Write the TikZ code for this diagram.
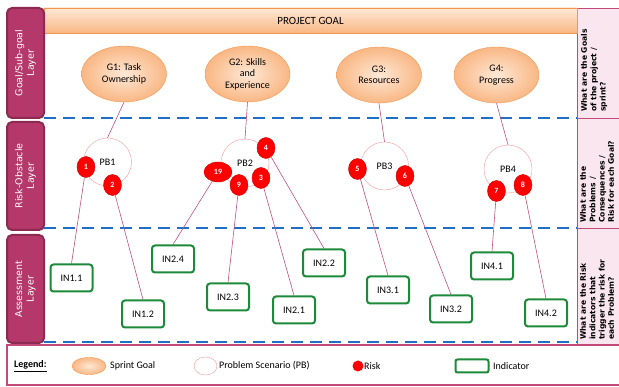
\documentclass[tikz,border=0pt]{standalone}
\usepackage{fontspec}
\setmainfont{Carlito}
\newfontfamily\layerfont{DejaVu Sans}
\usetikzlibrary{shapes.geometric}

\definecolor{layerred}{HTML}{B4386A}
\definecolor{layerdark}{HTML}{8C2A52}
\definecolor{goallight}{HTML}{FEE8D6}
\definecolor{goaldark}{HTML}{F9B784}
\definecolor{goaledge}{HTML}{F29650}
\definecolor{pbpink}{HTML}{F29A9A}
\definecolor{ingreen}{HTML}{1D8A3A}
\definecolor{dashblue}{HTML}{1F70C4}
\definecolor{linkred}{HTML}{C0507C}
\definecolor{qpink}{HTML}{F9E6EE}
\definecolor{qedge}{HTML}{C24A7A}

\begin{document}
\begin{tikzpicture}[x=1pt, y=-1pt, font=\fontsize{10}{11.5}\selectfont,
    layer/.style={draw=layerdark, fill=layerred, line width=2pt, rounded corners=5pt, rotate=90,
        text=white, align=center, inner sep=0pt, font=\layerfont\fontsize{9.5}{11.5}\selectfont},
    goal/.style={ellipse, draw=goaledge, inner color=goallight, outer color=goaldark,
        minimum width=85, minimum height=56, inner sep=0pt, align=center},
    problem/.style={circle, draw=pbpink, fill=white, minimum size=48, inner sep=0pt},
    risk/.style={ellipse, fill=red, draw=red!80!black, text=white, minimum width=18,
        minimum height=21, inner sep=0pt, font=\fontsize{8}{9}\selectfont\bfseries},
    indicator/.style={draw=ingreen, line width=2pt, rounded corners=3pt, fill=white,
        minimum width=42, minimum height=27, inner sep=0pt},
    question/.style={rotate=90, anchor=north west, align=left, inner sep=0pt,
        font=\layerfont\bfseries\fontsize{7.6}{9.3}\selectfont},
    layerline/.style={draw=dashblue, line width=2.5pt, dash pattern=on 12pt off 7pt},
    link/.style={draw=linkred, line width=0.6pt}
]
        \useasboundingbox (0,0) rectangle (619,387);

        % question column and project goal
        \draw[draw=qedge, fill=qpink] (577,8) rectangle (623,345);
        \draw[qedge] (577,118) -- (619,118);
        \draw[qedge] (577,228) -- (619,228);
        \node[draw=goaledge, top color=goallight, bottom color=goaldark, minimum width=533,
            minimum height=25, inner sep=0pt, font=\fontsize{11}{12}\selectfont] (project) at (310.5,20.5) {PROJECT GOAL};

        \node[question] (q1) at (581,112) {What are the Goals\\of the project /\\sprint?};
        \node[question] (q2) at (580,223) {What are the\\Problems /\\Consequences /\\Risk for each Goal?};
        \node[question] (q3) at (580,340) {What are the Risk\\indicators that\\trigger the risk for\\each Problem?};

        \draw[layerline] (44,118) -- (577,118);
        \draw[layerline] (44,228) -- (577,228);
        \draw[layerline] (44,342) -- (577,342);

        % layers
        \node[layer, minimum width=110, minimum height=37] (goallayer) at (25.5,63) {Goal/Sub-goal\\Layer};
        \node[layer, minimum width=108, minimum height=37] (risklayer) at (25.5,176) {Risk-Obstacle\\Layer};
        \node[layer, minimum width=108, minimum height=37] (assesslayer) at (25.5,289) {Assessment\\Layer};

        % goals
        \node[goal] (g1) at (124,74) {G1: Task\\Ownership};
        \node[goal] (g2) at (247.5,74) {G2: Skills\\and\\Experience};
        \node[goal] (g3) at (379,75) {G3:\\Resources};
        \node[goal] (g4) at (496.5,75) {G4:\\Progress};

        % problems
        \node[problem] (pb1) at (107.5,162) {PB1};
        \node[problem] (pb2) at (245,163) {PB2};
        \node[problem] (pb3) at (384.5,166) {PB3};
        \node[problem] (pb4) at (508,169) {PB4};

        % risks
        \node[risk] (r1) at (86,167) {1};
        \node[risk] (r2) at (112.5,185) {2};
        \node[risk, minimum width=28, minimum height=20] (r19) at (218,172) {19};
        \node[risk] (r9) at (239,185) {9};
        \node[risk] (r3) at (261,178) {3};
        \node[risk] (r4) at (266,148) {4};
        \node[risk] (r5) at (357.5,169) {5};
        \node[risk] (r6) at (405,176) {6};
        \node[risk] (r7) at (496.5,191) {7};
        \node[risk] (r8) at (523,185) {8};

        % indicators
        \node[indicator] (in11) at (71.5,278) {IN1.1};
        \node[indicator] (in12) at (143,314) {IN1.2};
        \node[indicator] (in24) at (173,259) {IN2.4};
        \node[indicator] (in23) at (228,297) {IN2.3};
        \node[indicator] (in21) at (294,310) {IN2.1};
        \node[indicator] (in22) at (324,263) {IN2.2};
        \node[indicator] (in31) at (388,290) {IN3.1};
        \node[indicator] (in32) at (451,309) {IN3.2};
        \node[indicator] (in41) at (492,266) {IN4.1};
        \node[indicator] (in42) at (546,313) {IN4.2};

        \draw[link] (g1.south) -- (pb1.north);
        \draw[link] (g2.south) -- (pb2.north);
        \draw[link] (g3.south) -- (pb3.north);
        \draw[link] (g4.south) -- (pb4.north);

        \draw[link] (r1) -- (in11.north);
        \draw[link] (r2) -- (in12.north);
        \draw[link] (r19) -- (in24.north);
        \draw[link] (r9) -- (in23.north);
        \draw[link] (r3) -- (in21.north);
        \draw[link] (r4) -- (in22.north);
        \draw[link] (r5) -- (in31.north);
        \draw[link] (r6) -- (in32.north);
        \draw[link] (r7) -- (in41.north);
        \draw[link] (r8) -- (in42.north);

        % legend
        \draw[draw=qedge, line width=1.5pt] (7,345) rectangle (623,385);
        \node[anchor=west, inner sep=0pt] (legend) at (14,366) {\underline{\textbf{Legend:}}};
        \node[goal, minimum width=34, minimum height=17] (lgoal) at (89,366) {};
        \node[anchor=west, inner sep=0pt] (lgoaltext) at (110,366) {Sprint Goal};
        \node[ellipse, draw=pbpink, minimum width=23, minimum height=18] (lpb) at (205.5,366) {};
        \node[anchor=west, inner sep=0pt] (lpbtext) at (219,366) {Problem Scenario (PB)};
        \node[circle, fill=red, minimum size=11, inner sep=0pt] (lrisk) at (358,366) {};
        \node[anchor=west, inner sep=0pt] (lrisktext) at (364,366) {Risk};
        \node[indicator, minimum width=33, minimum height=13, rounded corners=2pt] (lin) at (472,366) {};
        \node[anchor=west, inner sep=0pt] (lintext) at (493,366) {Indicator};
    \end{tikzpicture}
\end{document}
